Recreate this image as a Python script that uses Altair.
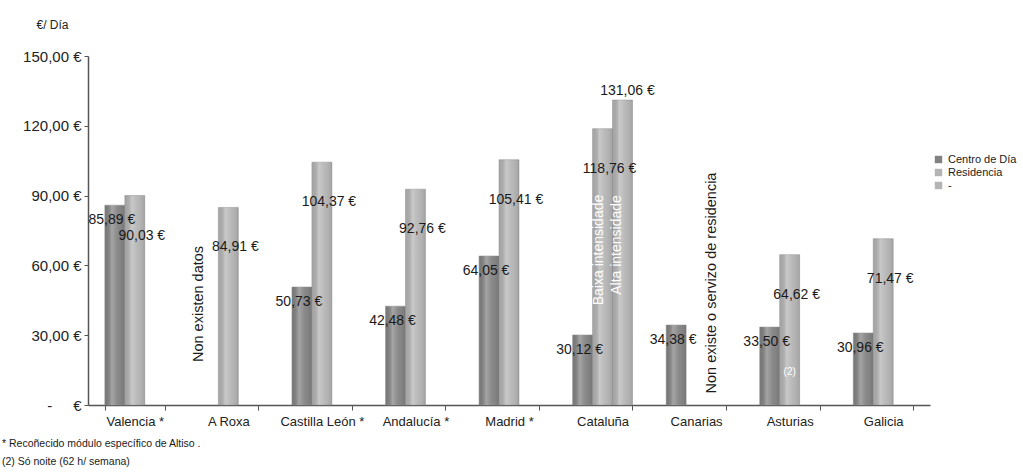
import altair as alt
import pandas as pd

regions = ["Valencia *", "A Roxa", "Castilla León *", "Andalucía *", "Madrid *",
           "Cataluña", "Canarias", "Asturias", "Galicia"]
series = ["Centro de Día", "Residencia", "-"]
centro = [85.89, None, 50.73, 42.48, 64.05, 30.12, 34.38, 33.50, 30.96]
residencia = [90.03, 84.91, 104.37, 92.76, 105.41, 118.76, None, 64.62, 71.47]
extra = [None, None, None, None, None, 131.06, None, None, None]
y_ticks = [0, 30, 60, 90, 120, 150]
footnote = "* Recoñecido módulo específico de  Altiso .\n(2) Só noite (62 h/ semana)"

rows = []
for s, vals in zip(series, [centro, residencia, extra]):
    for r, v in zip(regions, vals):
        if v is not None:
            rows.append({"region": r, "series": s, "value": v,
                         "label": f"{v:.2f}".replace(".", ",") + " €"})
df = pd.DataFrame(rows)

FONT = "Liberation Sans"
AX = "#555555"
NB = "\u00a0"

x_enc = alt.X("region:N",
              scale=alt.Scale(domain=regions, paddingInner=0.36, paddingOuter=0.18),
              axis=alt.Axis(title=None, labelAngle=0, tickBand="extent", labelFontSize=13,
                            labelFont=FONT, labelColor="#222222", domainColor=AX, tickColor=AX,
                            tickSize=5, labelPadding=5, domainWidth=1.5))
xo_enc = alt.XOffset("series:N", scale=alt.Scale(domain=series, paddingInner=0, paddingOuter=0))
label_expr = ("datum.value == 0 ? '-" + NB * 5 + "€' : "
              "replace(format(datum.value, '.2f'), '.', ',') + ' €'")
y_enc = alt.Y("value:Q",
              scale=alt.Scale(domain=[0, 150], nice=False, zero=True),
              axis=alt.Axis(values=y_ticks, grid=False, title="€/ Día", titleAngle=0,
                            titleX=-36, titleY=-32, titleAlign="center", titleBaseline="middle",
                            titleFontWeight="normal", titleFontSize=12, titleFont=FONT,
                            titleColor="#222222",
                            labelExpr=label_expr, labelFontSize=15, labelFont=FONT,
                            labelColor="#222222", tickSize=4, labelPadding=3,
                            domainColor=AX, tickColor=AX, domainWidth=1.5))

base = alt.Chart(df)

bars = base.mark_bar(stroke="#8f8f8f", strokeWidth=0.5).encode(
    x=x_enc, xOffset=xo_enc, y=y_enc,
    color=alt.Color("series:N",
                    scale=alt.Scale(domain=series, range=["#828282", "#b4b4b4", "#b4b4b4"]),
                    legend=alt.Legend(title=None, orient="none", legendX=845, legendY=98,
                                      symbolType="square", symbolSize=55, labelFontSize=11,
                                      labelFont=FONT, labelColor="#222222", rowPadding=1,
                                      symbolStrokeWidth=0, labelOffset=4)),
)

shine = base.mark_bar(color=alt.LinearGradient(
    gradient="linear", x1=0, x2=1, y1=0, y2=0,
    stops=[alt.GradientStop(color="rgba(0,0,0,0.06)", offset=0),
           alt.GradientStop(color="rgba(255,255,255,0.28)", offset=0.35),
           alt.GradientStop(color="rgba(255,255,255,0.05)", offset=0.65),
           alt.GradientStop(color="rgba(0,0,0,0.10)", offset=1)])).encode(
    x=x_enc, xOffset=xo_enc, y=y_enc)

def labels(s, dx, dy):
    return base.transform_filter(alt.datum.series == s).mark_text(
        font=FONT, fontSize=14, color="#1a1a1a", dx=dx, dy=dy).encode(
        x=x_enc, xOffset=xo_enc, y=y_enc, text="label:N")

lab_c = labels("Centro de Día", -3, 15)
lab_r = labels("Residencia", 7, 40)
lab_e = labels("-", 5, -9)

def note(region, ser, text, ypx, color, size, dy=0, angle=270):
    d = pd.DataFrame({"region": [region], "series": [ser], "t": [text]})
    return alt.Chart(d).mark_text(font=FONT, fontSize=size, color=color, angle=angle,
                                  align="center", baseline="middle", dy=dy).encode(
        x=x_enc, xOffset=xo_enc, y=alt.value(ypx), text="t:N")

n1 = note("A Roxa", "Centro de Día", "Non existen datos", 248, "#1a1a1a", 14.5, dy=-9)
n2 = note("Canarias", "-", "Non existe o servizo de residencia", 227, "#1a1a1a", 14.5, dy=-4)
n3 = note("Cataluña", "Residencia", "Baixa intensidade", 194, "white", 14, dy=-4)
n4 = note("Cataluña", "-", "Alta intensidade", 189, "white", 14, dy=-6)
n5 = note("Asturias", "Residencia", "(2)", 316, "white", 10, angle=0)

foot = alt.Chart(pd.DataFrame({"t": [footnote]})).mark_text(
    font=FONT, fontSize=10.5, color="#1a1a1a", align="left", baseline="middle",
    lineBreak="\n", lineHeight=18).encode(
    x=alt.value(-86), y=alt.value(388), text="t:N")

chart = alt.layer(bars, shine, lab_c, lab_r, lab_e, n1, n2, n3, n4, n5, foot).properties(
    width=842, height=349,
    autosize=alt.AutoSizeParams(type="none"),
    padding={"left": 88, "top": 56, "right": 93, "bottom": 67},
    background="white",
).configure_view(stroke=None)

chart.save("out.html", embed_options={"renderer": "svg", "actions": False})
